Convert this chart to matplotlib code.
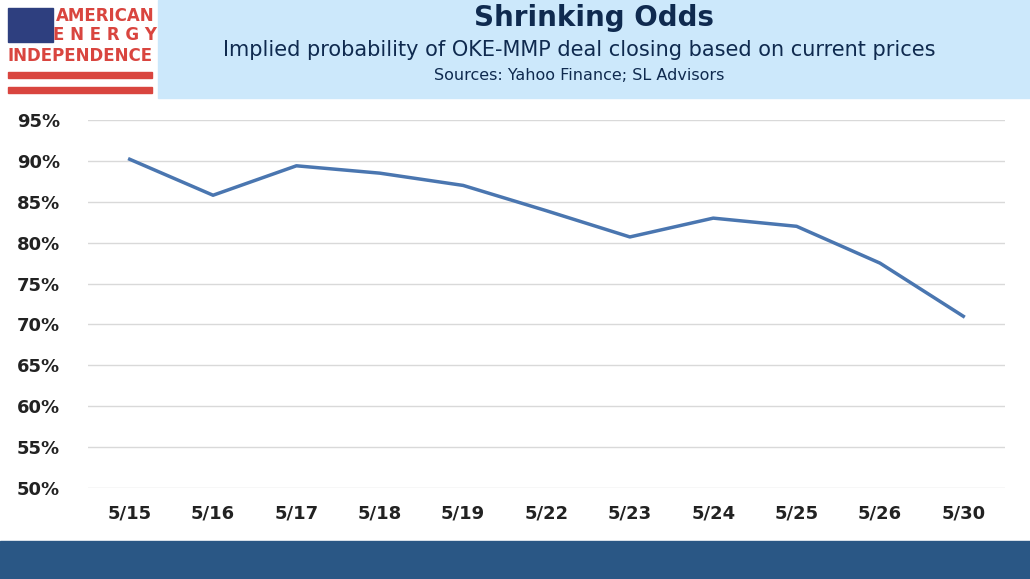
import matplotlib
matplotlib.use("Agg")
import matplotlib.pyplot as plt
from matplotlib.patches import Rectangle

dates = ["5/15","5/16","5/17","5/18","5/19","5/22","5/23","5/24","5/25","5/26","5/30"]
prob = [90.2, 85.8, 89.4, 88.5, 87.0, 83.9, 80.7, 83.0, 82.0, 77.5, 71.0]
yticks = list(range(50, 100, 5))

W, H = 1030, 579
fig = plt.figure(figsize=(W/100, H/100), dpi=100)
fig.patch.set_facecolor("white")

# header box
fig.patches.append(Rectangle((158/W, 1-98/H), 1-158/W, 98/H, transform=fig.transFigure, color="#cce8fb", zorder=0))
# bottom band
fig.patches.append(Rectangle((0, 0), 1, 38/H, transform=fig.transFigure, color="#2a5785", zorder=0))

# logo
fig.patches.append(Rectangle((8/W, 1-42/H), 45/W, 34/H, transform=fig.transFigure, color="#2e3f7f"))
for y0 in (72, 87):
    fig.patches.append(Rectangle((8/W, 1-(y0+6)/H), 144/W, 6/H, transform=fig.transFigure, color="#d9453f"))
red = "#d9453f"
fig.text(105/W, 1-16/H, "AMERICAN", color=red, fontsize=12, fontweight="bold", ha="center", va="center")
fig.text(105/W, 1-35/H, "E N E R G Y", color=red, fontsize=12, fontweight="bold", ha="center", va="center")
fig.text(80/W, 1-56/H, "INDEPENDENCE", color=red, fontsize=12, fontweight="bold", ha="center", va="center")

navy = "#0f2a4f"
fig.text(594/W, 1-18/H, "Shrinking Odds", color=navy, fontsize=20, fontweight="bold", ha="center", va="center")
fig.text(579/W, 1-50/H, "Implied probability of OKE-MMP deal closing based on current prices", color=navy, fontsize=15, ha="center", va="center")
fig.text(579/W, 1-75/H, "Sources: Yahoo Finance; SL Advisors", color=navy, fontsize=11.5, ha="center", va="center")

ax = fig.add_axes([88/W, 1-488/H, (1005-88)/W, (488-120)/H])
x = range(len(dates))
ax.plot(x, prob, color="#4a76b0", lw=2.5)
ax.set_ylim(50, 95)
ax.set_xlim(-0.5, len(dates)-0.5)
ax.set_yticks(yticks)
ax.set_yticklabels([f"{v}%" for v in yticks], fontsize=13, fontweight="bold", color="#222222")
ax.set_xticks(list(x))
ax.set_xticklabels(dates, fontsize=13, fontweight="bold", color="#222222")
ax.grid(axis="y", color="#d9d9d9", lw=1)
ax.set_axisbelow(True)
for s in ax.spines.values():
    s.set_visible(False)
ax.tick_params(length=0, pad=12)
ax.tick_params(axis="y", pad=20)
fig.savefig("out.png", dpi=100)
